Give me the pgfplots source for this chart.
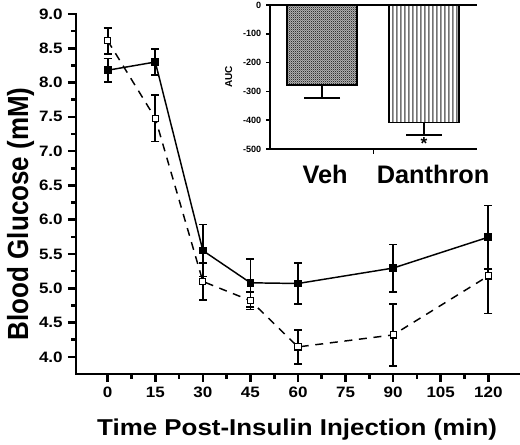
\documentclass[border=0pt]{standalone}
\usepackage{fontspec}
\setmainfont{Liberation Sans}
\usepackage{pgfplots}
\pgfplotsset{compat=1.18}
\usetikzlibrary{patterns}
\pgfdeclarepatternformonly{vstripes}{\pgfpoint{0pt}{0pt}}{\pgfpoint{2.6pt}{1pt}}{\pgfpoint{2.6pt}{1pt}}{%
  \pgfpathrectangle{\pgfpoint{0pt}{0pt}}{\pgfpoint{1.3pt}{1pt}}\pgfusepath{fill}}
\pgfdeclarepatternformonly{checker}{\pgfpoint{0pt}{0pt}}{\pgfpoint{1.6pt}{1.6pt}}{\pgfpoint{1.6pt}{1.6pt}}{%
  \pgfpathrectangle{\pgfpoint{0pt}{0pt}}{\pgfpoint{0.8pt}{0.8pt}}%
  \pgfpathrectangle{\pgfpoint{0.8pt}{0.8pt}}{\pgfpoint{0.8pt}{0.8pt}}\pgfusepath{fill}}

\pgfplotstableread{
t y e
0 8.18 0.17
15 8.30 0.19
30 5.55 0.38
45 5.08 0.35
60 5.07 0.30
90 5.295 0.345
120 5.745 0.46
}\veh
\pgfplotstableread{
t y e
0 8.61 0.19
15 7.48 0.34
30 5.10 0.27
45 4.82 0.13
60 4.145 0.245
90 4.32 0.45
120 5.18 0.55
}\dan
\pgfplotstableread{
x y e
1 -278 44
}\aucveh
\pgfplotstableread{
x y e
2 -408 43
}\aucdan

\begin{document}
\begin{tikzpicture}
\begin{axis}[
  at={(0pt,0pt)}, anchor=south west,
  scale only axis, width=333pt, height=270pt,
  xmin=-10, xmax=130, ymin=3.75, ymax=9.0,
  axis x line*=bottom, axis y line*=left,
  axis line style={line width=2.2pt, line cap=rect},
  tick align=outside,
  major tick length=6pt, minor tick length=3.5pt,
  every tick/.style={black, line width=2pt},
  xtick={0,15,...,120}, minor x tick num=1,
  ytick={4.0,4.5,...,9.0}, minor y tick num=1,
  /pgf/number format/assume math mode=true,
  yticklabel style={/pgf/number format/fixed, /pgf/number format/fixed zerofill, /pgf/number format/precision=1},
  tick label style={font=\fontsize{11.3}{12}\selectfont\bfseries, xscale=1.13},
  xlabel={Time Post-Insulin Injection (min)},
  ylabel={Blood Glucose (mM)},
  xlabel style={font=\fontsize{17.2}{18}\selectfont\bfseries, xscale=1.13, at={(axis description cs:0.498,-0.153)}, anchor=center},
  ylabel style={font=\fontsize{19.5}{20}\selectfont\bfseries, yscale=1.12, at={(axis description cs:-0.125,0.445)}, anchor=center},
  clip=false,
]
\addplot[black, line width=1.1pt, mark=square*, mark size=2.3pt, mark options={solid, fill=black},
  error bars/.cd, y dir=both, y explicit, error bar style={line width=1.2pt, solid}, error mark options={line width=1.2pt, mark size=3pt, rotate=90}]
  table[x=t, y=y, y error=e] {\veh};
\addplot[black, line width=1.1pt, dash pattern=on 6pt off 5pt, mark=square*, mark size=2.3pt, mark options={solid, fill=white, line width=0.8pt},
  error bars/.cd, y dir=both, y explicit, error bar style={line width=1.2pt, solid}, error mark options={line width=1.2pt, mark size=3pt, rotate=90, solid}]
  table[x=t, y=y, y error=e] {\dan};
\end{axis}

\begin{axis}[
  name=inset,
  at={(145.5pt,168.75pt)}, anchor=south west,
  scale only axis, width=155.25pt, height=108pt,
  xmin=0.49, xmax=2.52, ymin=-500, ymax=0,
  axis x line*=top, axis y line*=left,
  axis line style={line width=1.3pt},
  tick align=outside, major tick length=3pt,
  every tick/.style={black, line width=1.2pt},
  xtick=\empty,
  ytick={-500,-400,...,0},
  /pgf/number format/assume math mode=true,
  tick label style={font=\fontsize{6.8}{7}\selectfont\bfseries},
  ylabel={AUC},
  ylabel style={font=\fontsize{7.5}{8}\selectfont\bfseries, at={(axis description cs:-0.2,0.5)}, anchor=center},
  ybar, bar width=0.68, bar shift=0pt,
  clip=false,
]
\addplot[draw=black, line width=1.3pt, fill=gray!55, postaction={pattern=checker, pattern color=black!80},
  error bars/.cd, y dir=minus, y explicit, error bar style={line width=1.3pt}, error mark options={line width=1.3pt, mark size=13.5pt, rotate=90}]
  table[x=x, y=y, y error=e] {\aucveh};
\addplot[draw=black, line width=1.3pt, fill=white, postaction={pattern=vstripes, pattern color=black!55},
  error bars/.cd, y dir=minus, y explicit, error bar style={line width=1.3pt}, error mark options={line width=1.3pt, mark size=13.5pt, rotate=90}]
  table[x=x, y=y, y error=e] {\aucdan};
\node[font=\fontsize{19}{20}\selectfont\bfseries] at (axis cs:1.03,-590) {Veh};
\node[font=\fontsize{19}{20}\selectfont\bfseries] at (axis cs:2.09,-590) {Danthron};
\node[font=\fontsize{13}{13}\selectfont\bfseries] at (axis cs:2,-482) {*};
\end{axis}
\draw[line width=1.3pt] (inset.south west) -- (inset.south east);
\draw[line width=1.2pt] (inset.south) -- ++(0,-4pt);
\pgfresetboundingbox
\useasboundingbox (-57pt,-52.5pt) rectangle (333pt,280.5pt);
\end{tikzpicture}
\end{document}
